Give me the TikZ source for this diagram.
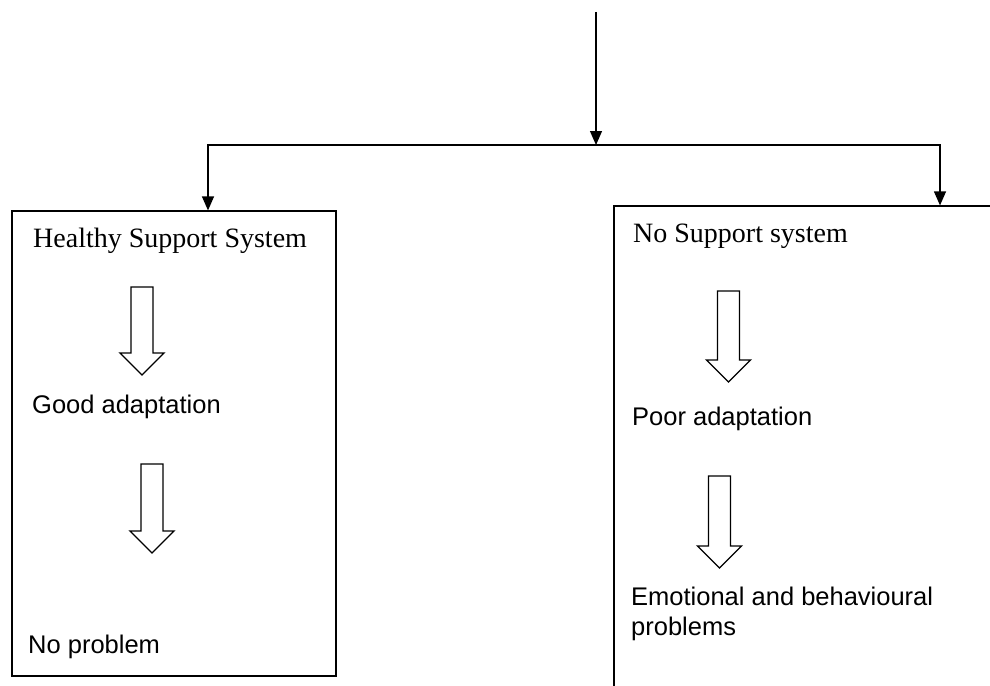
\documentclass[tikz,border=0pt]{standalone}
\usepackage{fontspec}
\setmainfont{Liberation Serif}
\newfontfamily\sansfont{Liberation Sans}
\usetikzlibrary{arrows.meta}
\def\hollowarrow(#1,#2,#3){\draw[line width=1.3pt, line join=miter] (#1-11, #2) -- (#1+11, #2) -- (#1+11, #2+#3-22) -- (#1+22, #2+#3-22) -- (#1, #2+#3) -- (#1-22, #2+#3-22) -- (#1-11, #2+#3-22) -- cycle;}
\tikzset{
  panel/.style={draw, line width=1.2pt, inner sep=0pt},
  headtext/.style={anchor=base west, inner sep=0pt, font=\fontsize{28}{33}\selectfont},
  steptext/.style={anchor=base west, inner sep=0pt, align=left, font=\sansfont\fontsize{25.5}{30}\selectfont},
  link/.style={line width=1.2pt, -{Triangle[width=12pt,length=14pt]}}
}
\begin{document}
\begin{tikzpicture}[x=1pt, y=-1pt]
		%%%%% FRAME %%%%%
		\clip (0, 0) rectangle (990, 685);
		
		\node[panel, minimum width=324pt, minimum height=465pt] (healthy) at (174, 443.5) {};
		\node[panel, minimum width=396pt, minimum height=494pt] (nosupport) at (812, 453) {};
		
		%%%%% CONNECTORS %%%%%
		\coordinate (top) at (596, 12);
		\coordinate (split) at (596, 145);
		\coordinate (ljoin) at (208, 145);
		\coordinate (rjoin) at (940, 145);
		\draw[link] (top) -- (split);
		\draw[link] (split) -- (ljoin) -- (ljoin |- healthy.north);
		\draw[link] (split) -- (rjoin) -- (rjoin |- nosupport.north);
		
		%%%%% LEFT %%%%%
		\node[headtext] (healthyhead) at (33, 247) {Healthy Support System};
		\hollowarrow(142,287,88)
		\node[steptext] (goodadapt) at (32, 413) {Good adaptation};
		\hollowarrow(152,464,89)
		\node[steptext] (noproblem) at (28, 653) {No problem};
		
		%%%%% RIGHT %%%%%
		\node[headtext] (nonehead) at (633, 242) {No Support system};
		\hollowarrow(728.5,291,91)
		\node[steptext] (pooradapt) at (632, 425) {Poor adaptation};
		\hollowarrow(719.5,476,92)
		\node[steptext] (problems) at (631, 635) {Emotional and behavioural\\problems};
		%%%%% END %%%%%
	\end{tikzpicture}
\end{document}
